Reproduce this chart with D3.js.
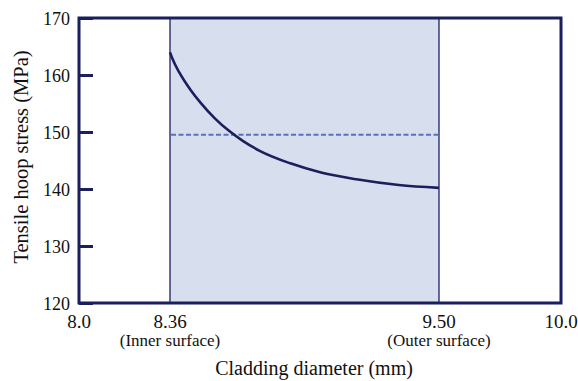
<!DOCTYPE html>
<html>
<head>
<meta charset="utf-8">
<script src="https://cdn.jsdelivr.net/npm/d3@7"></script>
<style>
  body { margin: 0; background: #fff; }
  svg text { font-family: "Liberation Serif", "Times New Roman", serif; fill: #111; }
</style>
</head>
<body>
<div id="chart"></div>
<script>
// Data
var diameter = [8.36, 8.37, 8.40, 8.445, 8.49, 8.55, 8.61, 8.67, 8.74, 8.87, 9.00, 9.15, 9.33, 9.50];
var stress   = [164.0, 162.9, 160.4, 157.5, 155.1, 152.4, 150.2, 148.4, 146.7, 144.5, 142.9, 141.7, 140.7, 140.2];
var meanStress = 149.5;
var xTicks = [8.0, 8.36, 9.50, 10.0];
var xTickLabels = ["8.0", "8.36", "9.50", "10.0"];
var xSubLabels = ["", "(Inner surface)", "(Outer surface)", ""];
var yTicks = [120, 130, 140, 150, 160, 170];
var surface = [8.36, 9.50];

var width = 578, height = 381;
var margins = {top: 18, bottom: 78, left: 79, right: 17};
var w = width - margins.left - margins.right;
var h = height - margins.top - margins.bottom;

var navy = "#1b1f5e";

var svg = d3.select("#chart").append("svg")
  .attr("width", width)
  .attr("height", height);

var g = svg.append("g")
  .attr("transform", "translate(" + margins.left + "," + margins.top + ")");

// schematic axis: piecewise scale
var x = d3.scaleLinear()
  .domain([8.0, 8.36, 9.50, 10.0])
  .range([0, 91, 360, w]);

var y = d3.scaleLinear()
  .domain([120, 170])
  .range([h, 0]);

// cladding region
g.append("rect")
  .attr("x", x(surface[0]))
  .attr("y", 0)
  .attr("width", x(surface[1]) - x(surface[0]))
  .attr("height", h)
  .attr("fill", "#d7dfee");

g.selectAll(".surf").data(surface).enter().append("line")
  .attr("class", "surf")
  .attr("x1", function(d){ return x(d); })
  .attr("x2", function(d){ return x(d); })
  .attr("y1", 0).attr("y2", h)
  .attr("stroke", navy)
  .attr("stroke-width", 1.3);

// mean stress dashed
g.append("line")
  .attr("x1", x(surface[0]) + 1)
  .attr("x2", x(surface[1]) - 1)
  .attr("y1", y(meanStress))
  .attr("y2", y(meanStress))
  .attr("stroke", "#5c70c0")
  .attr("stroke-width", 2)
  .attr("stroke-dasharray", "5,2.5");

// stress curve
var line = d3.line()
  .x(function(d, i){ return x(diameter[i]); })
  .y(function(d){ return y(d); })
  .curve(d3.curveMonotoneX);

g.append("path")
  .datum(stress)
  .attr("d", line)
  .attr("fill", "none")
  .attr("stroke", navy)
  .attr("stroke-width", 2.6);

// frame
g.append("rect")
  .attr("x", 0).attr("y", 0)
  .attr("width", w).attr("height", h)
  .attr("fill", "none")
  .attr("stroke", navy)
  .attr("stroke-width", 3);

// y axis
var yAxis = d3.axisLeft(y)
  .tickValues(yTicks)
  .tickSize(-14);

var ya = g.append("g").call(yAxis)
  .attr("font-family", null);
ya.select(".domain").remove();
ya.selectAll(".tick line").attr("stroke", navy).attr("stroke-width", 3);
ya.selectAll(".tick text")
  .attr("x", -9)
  .attr("dy", "0.34em")
  .style("font-size", "18px")
  .attr("fill", "#111");

// x axis labels
var xa = g.append("g").attr("transform", "translate(0," + h + ")");
xa.selectAll(".xt").data(xTicks).enter().append("text")
  .attr("class", "xt")
  .attr("x", function(d){ return x(d); })
  .attr("y", 25)
  .attr("text-anchor", "middle")
  .style("font-size", "19px")
  .text(function(d, i){ return xTickLabels[i]; });
xa.selectAll(".xs").data(xTicks).enter().append("text")
  .attr("class", "xs")
  .attr("x", function(d){ return x(d); })
  .attr("y", 43)
  .attr("text-anchor", "middle")
  .style("font-size", "17px")
  .text(function(d, i){ return xSubLabels[i]; });

// titles
svg.append("text")
  .attr("x", 314)
  .attr("y", 375)
  .attr("text-anchor", "middle")
  .style("font-size", "20px")
  .text("Cladding diameter (mm)");

svg.append("text")
  .attr("transform", "translate(28,157) rotate(-90)")
  .attr("text-anchor", "middle")
  .style("font-size", "20.5px")
  .text("Tensile hoop stress (MPa)");
</script>
</body>
</html>
